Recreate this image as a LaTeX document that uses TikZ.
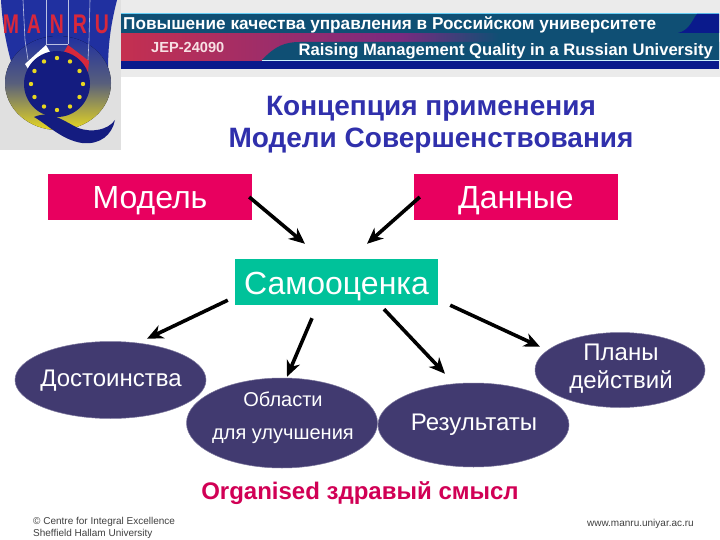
\documentclass[tikz,border=0pt]{standalone}
\usepackage{fontspec}
\setmainfont{Liberation Sans}
\usetikzlibrary{shapes.geometric,arrows.meta,calc}
\definecolor{crim}{HTML}{E8005F}
\definecolor{tealbox}{HTML}{00C29A}
\definecolor{navyell}{HTML}{413A70}
\definecolor{titleblue}{HTML}{3030AC}
\definecolor{bantea}{HTML}{0F4F74}
\definecolor{banred}{HTML}{C8304E}
\definecolor{banpur}{HTML}{7A2A80}
\definecolor{bandark}{HTML}{0A1A8C}
\definecolor{logoblue}{HTML}{2030A0}
\definecolor{logodark}{HTML}{141C80}
\definecolor{logored}{HTML}{D8283C}
\definecolor{logoyel}{HTML}{E8D820}
\definecolor{footgrey}{HTML}{404040}
\tikzset{
  x=1pt,y=-1pt,
  boxn/.style={minimum height=46pt,minimum width=204pt,inner sep=0pt,fill=crim,font=\fontsize{32}{36}\selectfont,text=white},
  elln/.style={ellipse,inner sep=0pt,fill=navyell,draw=navyell!70!white,line width=.5pt,text=white,align=center},
  arr/.style={draw=black,line width=3.6pt,-{Stealth[length=16pt,width=14pt,inset=5pt]}},
  foot/.style={font=\fontsize{10}{12.6}\selectfont,text=footgrey,inner sep=0pt,align=left},
  banw/.style={font=\bfseries\fontsize{16.6}{18}\selectfont,text=white,inner sep=0pt},
  ttl/.style={font=\bfseries\fontsize{28}{32}\selectfont,text=titleblue,inner sep=0pt,align=center},
  lett/.style={inner sep=0pt,text=logored,font=\bfseries\fontsize{27}{28}\selectfont},
  divl/.style={draw=white!70!logoblue,line width=.6pt}
}
\begin{document}
\begin{tikzpicture}
\useasboundingbox (0,0) rectangle (720,540);
\fill[white] (0,0) rectangle (720,540);
% banner
\fill[black!8] (110,0) rectangle (720,77);
\fill[bandark] (108,60) rectangle (719,69);
\fill[bantea] (108,14) rectangle (719,34);
\fill[left color=banred,right color=banpur] (108,34) rectangle (400,61);
\fill[left color=banpur,right color=bantea] (400,34) rectangle (500,42);
\fill[bantea] (500,34) rectangle (719,42);
\fill[bantea] (262,60) .. controls (275,46) and (285,42) .. (300,42) -- (719,42) -- (719,60) -- cycle;
\draw[white!80!cyan,line width=.6pt] (262,60.5) -- (719,60.5);
\draw[cyan!60!white,line width=.6pt] (118,13.5) -- (719,13.5);
\fill[bandark] (719,14) -- (697,14) .. controls (692,20) and (690,30) .. (678,33) -- (719,33) -- cycle;
% logo
\fill[black!12] (0,0) rectangle (121,150);
\fill[logoblue] (1,0) -- (117,0) .. controls (112,20) and (108,40) .. (108,70) -- (17,80) .. controls (6,50) and (2,20) .. (1,0) -- cycle;
\fill[top color=logoblue,bottom color=logoyel,middle color=logoblue!72!logoyel] (58,83) ellipse [x radius=53,y radius=47];
\draw[divl] (23,0) -- (25,40) -- (28,60);
\draw[divl] (46,0) -- (46,44);
\draw[divl] (68,0) -- (68,44);
\draw[divl] (90,0) -- (89,40) -- (88,60);
\draw[divl] (46,44) -- (68,44);
\fill[white] (25,64) -- (46,45) -- (50,52) -- (30,72) -- cycle;
\fill[logored] (68,45) -- (89,61) -- (88,72) -- (64,52) -- cycle;
\fill[logodark] (57,84) circle (33);
\foreach \a in {0,30,...,330} \fill[logoyel] (57,84) ++(\a:26) circle (2.2);
\fill[logodark] (34,117) .. controls (50,110) and (62,120) .. (78,128) .. controls (92,133) and (108,130) .. (115,120) .. controls (112,135) and (100,145) .. (82,143) .. controls (62,140) and (48,125) .. (34,117) -- cycle;
\node[lett] (lm) at (11,24) {\scalebox{.72}[1]{M}};
\node[lett] (la) at (34,24) {\scalebox{.72}[1]{A}};
\node[lett] (ln) at (57,24) {\scalebox{.72}[1]{N}};
\node[lett] (lr) at (80,24) {\scalebox{.72}[1]{R}};
\node[lett] (lu) at (102,24) {\scalebox{.72}[1]{U}};
% banner text
\node[banw,anchor=west,font=\bfseries\fontsize{17.2}{18}\selectfont] (bru) at (123,25) {Повышение качества управления в Российском университете};
\node[banw,anchor=west,text=white!85!banred,font=\bfseries\fontsize{14.6}{16}\selectfont] (jep) at (151,47) {JEP-24090};
\node[banw,anchor=east] (ben) at (713,51) {Raising Management Quality in a Russian University};
% title
\node[ttl] (t1) at (431,109) {Концепция применения};
\node[ttl] (t2) at (431,141) {Модели Совершенствования};
% boxes
\node[boxn] (model) at (150,197) {\raisebox{-11pt}[0pt][0pt]{Модель}};
\node[boxn] (data) at (516,197) {\raisebox{-11pt}[0pt][0pt]{Данные}};
\node[boxn,fill=tealbox,minimum width=203pt] (self) at (336.5,282) {\raisebox{-12pt}[0pt][0pt]{Самооценка}};
% ellipses
\node[elln,minimum width=191pt,minimum height=77pt] (dost) at (110.5,380) {};
\node[elln,minimum width=191pt,minimum height=90pt] (obl) at (282,423) {};
\node[elln,minimum width=191pt,minimum height=84pt] (res) at (473.5,425) {};
\node[elln,minimum width=170pt,minimum height=75pt] (plan) at (620,370) {};
\node[text=white,inner sep=0pt,font=\fontsize{24}{28}\selectfont] (dostt) at (111,381) {Достоинства};
\node[text=white,inner sep=0pt,font=\fontsize{20}{24}\selectfont] (oblt) at (283,399) {Области};
\node[text=white,inner sep=0pt,font=\fontsize{20}{24}\selectfont] (oblb) at (283,436) {для улучшения};
\node[text=white,inner sep=0pt,font=\fontsize{24}{28}\selectfont] (rest) at (474,425) {Результаты};
\node[text=white,inner sep=0pt,font=\fontsize{24}{28}\selectfont,align=center] (plant) at (621,368.5) {Планы\\действий};
% arrows
\draw[arr] ([shift={(-3,0)}]model.east) -- ([shift={(-31.5,-15)}]self.north);
\draw[arr] ([shift={(6,0)}]data.west) -- ([shift={(30.5,-15)}]self.north);
\draw[arr] ([shift={(-7,-5)}]self.south west) -- ([shift={(36.5,-2.5)}]dost.north);
\draw[arr] ([shift={(-24.5,13)}]self.south) -- ([shift={(5,-1)}]obl.north);
\draw[arr] ([shift={(47.5,4)}]self.south) -- ([shift={(-28.5,-9)}]res.north);
\draw[arr] ([shift={(12,0)}]self.south east) -- ([shift={(-80,14.5)}]plan.north);
% foot
\node[font=\bfseries\fontsize{24}{26}\selectfont,text=crim!90!black,inner sep=0pt] (org) at (360,493) {Organised здравый смысл};
\node[foot,anchor=west] (f1) at (33,528) {© Centre for Integral Excellence\\Sheffield Hallam University};
\node[foot,anchor=east] (f2) at (694,524) {www.manru.uniyar.ac.ru};
\end{tikzpicture}
\end{document}
